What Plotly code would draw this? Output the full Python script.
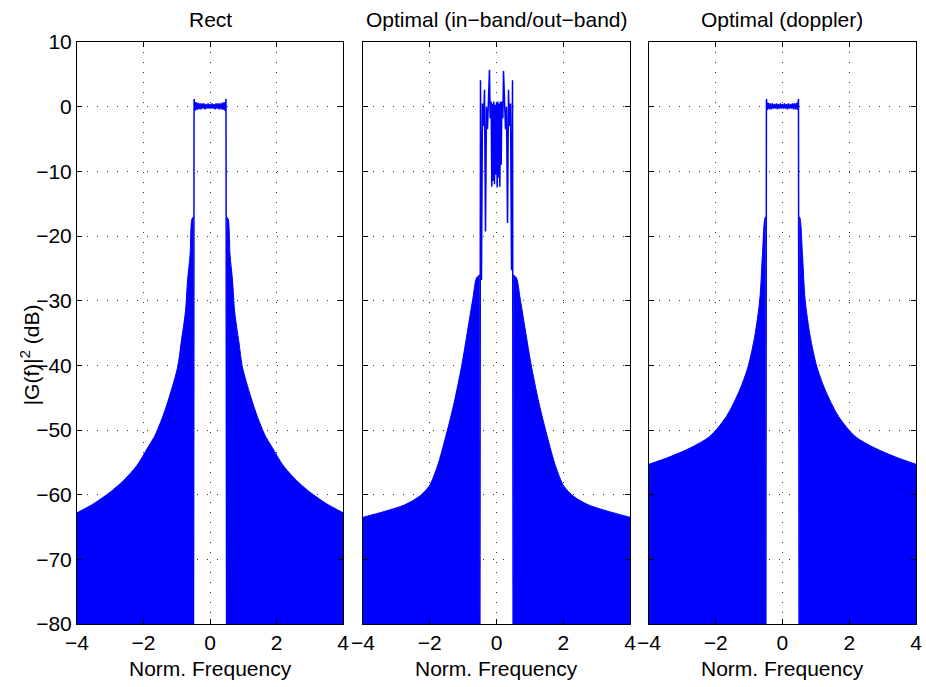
import plotly.graph_objects as go

# ---------------- data ----------------
panel_titles = ["Rect", "Optimal (in\u2212band/out\u2212band)", "Optimal (doppler)"]
x_ticks = [-4, -2, 0, 2, 4]
y_ticks = [-80, -70, -60, -50, -40, -30, -20, -10, 0, 10]

# out-of-band sidelobe envelope (positive frequencies, mirrored for negative)
rect_env_f = [0.50, 0.55, 0.60, 0.675, 0.74, 0.87, 0.97, 1.22, 1.42, 1.67, 1.87, 2.2, 2.6, 3.0, 3.5, 4.0]
rect_env_db = [-17.0, -17.5, -22.9, -26.8, -31.7, -36.5, -40.2, -44.8, -47.9, -51.0, -52.7, -55.5, -57.8, -59.6, -61.4, -62.8]

opt_env_f = [0.50, 0.60, 0.70, 0.83, 1.03, 1.27, 1.52, 1.77, 2.02, 2.32, 2.76, 3.36, 4.0]
opt_env_db = [-26.0, -26.5, -29.4, -33.5, -39.7, -45.8, -51.0, -55.6, -58.7, -60.3, -61.6, -62.6, -63.5]

dop_env_f = [0.50, 0.53, 0.60, 0.68, 0.83, 1.03, 1.28, 1.68, 2.18, 2.77, 3.4, 4.0]
dop_env_db = [-17.0, -17.3, -22.9, -29.9, -35.5, -40.2, -43.8, -47.9, -51.0, -52.8, -54.2, -55.3]

# in-band response
rect_pass_f = [-0.50, -0.48, -0.45, -0.42, -0.39, -0.36, -0.33, -0.30, -0.27, -0.24, -0.21, -0.18,
               -0.15, -0.12, -0.09, -0.06, -0.03, 0.00, 0.03, 0.06, 0.09, 0.12, 0.15, 0.18, 0.21,
               0.24, 0.27, 0.30, 0.33, 0.36, 0.39, 0.42, 0.45, 0.48, 0.50]
rect_pass_db = [-90, 1.2, -0.6, 0.7, -0.5, 0.6, -0.4, 0.5, -0.4, 0.5, -0.3, 0.5, -0.4, 0.4, -0.3,
                0.5, -0.3, 0.4, -0.3, 0.5, -0.3, 0.4, -0.4, 0.5, -0.3, 0.5, -0.4, 0.5, -0.4, 0.6,
                -0.5, 0.7, -0.6, 1.2, -90]

opt_pass_f = [-0.50, -0.48, -0.45, -0.42, -0.39, -0.36, -0.33, -0.30, -0.27, -0.24, -0.21, -0.19,
              -0.16, -0.14, -0.12, -0.10, -0.08, -0.06, -0.04, -0.02, 0.00, 0.02, 0.04, 0.06,
              0.08, 0.10, 0.12, 0.14, 0.16, 0.19, 0.21, 0.24, 0.27, 0.30, 0.33, 0.36, 0.39,
              0.42, 0.45, 0.48, 0.50]
opt_pass_db = [-90, 4.1, -26.8, 0.5, -3.0, 2.6, -19.3, 0.0, -3.5, 1.0, 5.7, -1.8, 0.8, -12.4,
               0.5, -11.5, 0.8, -12.0, 0.3, -10.5, 0.6, -12.5, 0.8, -11.0, 0.5, -12.4, 0.8,
               -9.0, 0.8, -1.8, 5.5, 1.0, -3.5, 0.0, -18.0, 2.6, -3.0, 0.5, -25.3, 4.1, -90]

dop_pass_f = rect_pass_f
dop_pass_db = [-90, 1.2, -0.5, 0.6, -0.4, 0.5, -0.4, 0.5, -0.3, 0.4, -0.3, 0.5, -0.4, 0.4, -0.3,
               0.5, -0.3, 0.4, -0.3, 0.5, -0.3, 0.4, -0.4, 0.5, -0.3, 0.4, -0.3, 0.5, -0.4, 0.5,
               -0.4, 0.6, -0.5, 1.2, -90]

envelopes = [(rect_env_f, rect_env_db), (opt_env_f, opt_env_db), (dop_env_f, dop_env_db)]
passbands = [(rect_pass_f, rect_pass_db), (opt_pass_f, opt_pass_db), (dop_pass_f, dop_pass_db)]

# ---------------- figure ----------------
W, H = 926, 687
ml, mr, mt, mb = 77, 4, 42, 63
pw = W - ml - mr
domains = [[0.0, 268 / pw], [(365 - ml) / pw, (634 - ml) / pw], [(653 - ml) / pw, 1.0]]
BLUE = "#0000ff"
FONT = "Liberation Sans, Arial, Helvetica, sans-serif"
FS = 21
Y_FLOOR = -90

fig = go.Figure()
for i in range(3):
    ax = "" if i == 0 else str(i + 1)
    xa, ya = "x" + ax, "y" + ax
    ef, edb = envelopes[i]
    for sign in (-1, 1):
        # baseline below the visible floor, then the smoothed envelope filled down to it
        fig.add_trace(go.Scatter(x=[sign * ef[0], sign * ef[-1]], y=[Y_FLOOR, Y_FLOOR],
                                 mode="lines", line=dict(width=0, color=BLUE),
                                 xaxis=xa, yaxis=ya, showlegend=False, hoverinfo="skip"))
        fig.add_trace(go.Scatter(x=[sign * f for f in ef], y=list(edb), mode="lines",
                                 line=dict(color=BLUE, width=1, shape="spline", smoothing=0.8),
                                 fill="tonexty", fillcolor=BLUE,
                                 xaxis=xa, yaxis=ya, showlegend=False, hoverinfo="skip"))
    pf, pdb = passbands[i]
    fig.add_trace(go.Scatter(x=pf, y=pdb, mode="lines", line=dict(color=BLUE, width=1.5),
                             xaxis=xa, yaxis=ya, showlegend=False))

axis_common = dict(showline=True, linecolor="black", linewidth=1, mirror="ticks",
                   ticks="inside", ticklen=5, tickwidth=1, tickcolor="black",
                   showgrid=True, gridcolor="#333333", gridwidth=1, griddash="1px,9px",
                   zeroline=False, tickfont=dict(family=FONT, size=FS, color="black"))

layout = dict(width=W, height=H, margin=dict(l=ml, r=mr, t=mt, b=mb),
              paper_bgcolor="white", plot_bgcolor="white", showlegend=False)
for i in range(3):
    ax = "" if i == 0 else str(i + 1)
    layout["xaxis" + ax] = dict(axis_common, domain=domains[i], range=[-4, 4],
                                tickvals=x_ticks, anchor="y" + ax)
    layout["yaxis" + ax] = dict(axis_common, domain=[0, 1], range=[-80, 10],
                                tickvals=y_ticks, anchor="x" + ax,
                                showticklabels=(i == 0))
fig.update_layout(**layout)

ph = H - mt - mb
ann = []
for i in range(3):
    cx = (domains[i][0] + domains[i][1]) / 2
    ann.append(dict(text=panel_titles[i], x=cx, y=(H - mb - 20) / ph, xref="paper", yref="paper",
                    xanchor="center", yanchor="middle", showarrow=False,
                    font=dict(family=FONT, size=FS, color="black")))
    ann.append(dict(text="Norm. Frequency", x=cx, y=-(668 - (H - mb)) / ph, xref="paper",
                    yref="paper", xanchor="center", yanchor="middle", showarrow=False,
                    font=dict(family=FONT, size=FS, color="black")))
ann.append(dict(text="|G(f)|<sup>2</sup> (dB)", x=-(ml - 30) / pw, y=(H - mb - 355) / ph,
                xref="paper", yref="paper", xanchor="center", yanchor="middle",
                textangle=-90, showarrow=False, font=dict(family=FONT, size=FS, color="black")))
fig.update_layout(annotations=ann)

fig.write_html("out.html")
